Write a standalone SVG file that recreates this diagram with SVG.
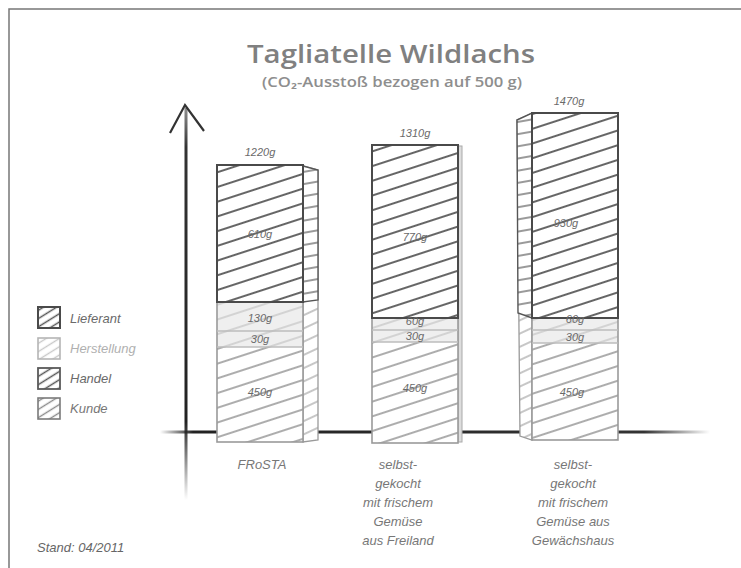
<svg xmlns="http://www.w3.org/2000/svg" width="741" height="568" viewBox="0 0 741 568">
<defs>
<style>
.title{font-family:"Open Sans","DejaVu Sans",sans-serif;font-weight:600;fill:#808080}
.sub{font-family:"Open Sans","DejaVu Sans",sans-serif;font-weight:600;fill:#8e8e8e}
.hand{font-family:"Liberation Sans","DejaVu Sans",sans-serif;font-style:italic;fill:#6a6a6a}
.val{font-size:11px;text-anchor:middle}
.lab{font-size:13px;text-anchor:middle;fill:#777}
.leg{font-size:13px}
.outD{fill:none;stroke:#4a4a4a;stroke-width:2}
.outL{fill:none;stroke:#9a9a9a;stroke-width:1.6}
.sep{stroke:#bdbdbd;stroke-width:1.5}
</style>
<pattern id="hD" patternUnits="userSpaceOnUse" width="14" height="14" patternTransform="rotate(-18)">
<rect width="14" height="14" fill="#fff"/>
<line x1="0" y1="7" x2="14" y2="7" stroke="#4a4a4a" stroke-width="1.7"/>
</pattern>
<pattern id="hM" patternUnits="userSpaceOnUse" width="14" height="14" patternTransform="rotate(-18)">
<rect width="14" height="14" fill="#fff"/>
<line x1="0" y1="7" x2="14" y2="7" stroke="#8a8a8a" stroke-width="1.4"/>
</pattern>
<pattern id="hL" patternUnits="userSpaceOnUse" width="14" height="14" patternTransform="rotate(-18)">
<rect width="14" height="14" fill="#efefef"/>
<line x1="0" y1="7" x2="14" y2="7" stroke="#c4c4c4" stroke-width="1.3"/>
</pattern>
<pattern id="lD" patternUnits="userSpaceOnUse" width="7" height="7" patternTransform="rotate(-32)">
<rect width="7" height="7" fill="#fff"/>
<line x1="0" y1="3.5" x2="7" y2="3.5" stroke="#555" stroke-width="1.5"/>
</pattern>
<pattern id="lM" patternUnits="userSpaceOnUse" width="7" height="7" patternTransform="rotate(-32)">
<rect width="7" height="7" fill="#fff"/>
<line x1="0" y1="3.5" x2="7" y2="3.5" stroke="#8a8a8a" stroke-width="1.4"/>
</pattern>
<pattern id="lL" patternUnits="userSpaceOnUse" width="7" height="7" patternTransform="rotate(-32)">
<rect width="7" height="7" fill="#fff"/>
<line x1="0" y1="3.5" x2="7" y2="3.5" stroke="#c8c8c8" stroke-width="1.4"/>
</pattern>
<pattern id="sD" patternUnits="userSpaceOnUse" width="12" height="12" patternTransform="rotate(-10)">
<rect width="12" height="12" fill="#fff"/>
<line x1="0" y1="6" x2="12" y2="6" stroke="#555" stroke-width="1.2"/>
</pattern>
<pattern id="sM" patternUnits="userSpaceOnUse" width="12" height="12" patternTransform="rotate(-25)">
<rect width="12" height="12" fill="#fff"/>
<line x1="0" y1="6" x2="12" y2="6" stroke="#999" stroke-width="1.1"/>
</pattern>
<linearGradient id="gx" gradientUnits="userSpaceOnUse" x1="160" y1="0" x2="710" y2="0">
<stop offset="0" stop-color="#222" stop-opacity="0"/>
<stop offset="0.06" stop-color="#222"/>
<stop offset="0.88" stop-color="#333"/>
<stop offset="1" stop-color="#333" stop-opacity="0"/>
</linearGradient>
<linearGradient id="gy" gradientUnits="userSpaceOnUse" x1="0" y1="108" x2="0" y2="500">
<stop offset="0" stop-color="#444" stop-opacity="0.6"/>
<stop offset="0.1" stop-color="#333"/>
<stop offset="0.8" stop-color="#222"/>
<stop offset="1" stop-color="#222" stop-opacity="0"/>
</linearGradient>
</defs>

<rect x="0" y="0" width="741" height="568" fill="#fff"/>
<rect x="9" y="9" width="760" height="600" fill="none" stroke="#777" stroke-width="1.5"/>

<g id="title">
<text class="title" x="391" y="63" font-size="26" text-anchor="middle" textLength="288" lengthAdjust="spacingAndGlyphs">Tagliatelle Wildlachs</text>
<text class="sub" x="392" y="87" font-size="14" text-anchor="middle" textLength="260" lengthAdjust="spacingAndGlyphs">(CO₂-Ausstoß bezogen auf 500 g)</text>
</g>

<g id="connectors">
<line x1="160" y1="432" x2="710" y2="432" stroke="url(#gx)" stroke-width="3"/>
<line x1="186" y1="108" x2="186" y2="500" stroke="url(#gy)" stroke-width="3"/>
<polyline points="170,133 185,105 204,131" fill="none" stroke="#333" stroke-width="2.2" stroke-linejoin="miter"/>
</g>

<g id="legend">
<g id="leg-lieferant">
<rect x="38" y="307" width="22" height="21" fill="url(#lD)" stroke="#4a4a4a" stroke-width="2"/>
<text class="hand leg" x="70" y="323" fill="#555">Lieferant</text>
</g>
<g id="leg-herstellung">
<rect x="38" y="338" width="22" height="21" fill="url(#lL)" stroke="#b5b5b5" stroke-width="1.6"/>
<text class="hand leg" x="70" y="353" style="fill:#b0b0b0">Herstellung</text>
</g>
<g id="leg-handel">
<rect x="38" y="368" width="22" height="21" fill="url(#lD)" stroke="#5a5a5a" stroke-width="1.8"/>
<text class="hand leg" x="70" y="383">Handel</text>
</g>
<g id="leg-kunde">
<rect x="38" y="398" width="22" height="21" fill="url(#lM)" stroke="#7a7a7a" stroke-width="1.6"/>
<text class="hand leg" x="70" y="413" style="fill:#777">Kunde</text>
</g>
</g>

<g id="bar-frosta">
<polygon points="303,166 318,170 318,440 303,442" fill="url(#sM)" stroke="#9a9a9a" stroke-width="1.3"/>
<polygon points="303,166 318,170 318,300 303,302" fill="url(#sD)" stroke="#555" stroke-width="1.4"/>
<rect x="217" y="347" width="86" height="95" fill="url(#hM)"/>
<rect x="217" y="302" width="86" height="45" fill="url(#hL)"/>
<rect x="217" y="165" width="86" height="137" fill="url(#hD)"/>
<rect class="outL" x="217" y="302" width="86" height="140"/>
<line class="sep" x1="217" y1="331" x2="303" y2="331"/>
<line class="sep" x1="217" y1="347" x2="303" y2="347"/>
<rect class="outD" x="217" y="165" width="86" height="137"/>
<text class="hand val" x="260" y="156">1220g</text>
<text class="hand val" x="260" y="238">610g</text>
<text class="hand val" x="260" y="322">130g</text>
<text class="hand val" x="260" y="343">30g</text>
<text class="hand val" x="260" y="396">450g</text>
</g>

<g id="bar-freiland">
<rect x="458" y="146" width="4" height="296" fill="#ddd" stroke="#aaa" stroke-width="1"/>
<rect x="372" y="342" width="86" height="101" fill="url(#hM)"/>
<rect x="372" y="318" width="86" height="24" fill="url(#hL)"/>
<rect x="372" y="145" width="86" height="173" fill="url(#hD)"/>
<rect class="outL" x="372" y="318" width="86" height="125"/>
<line class="sep" x1="372" y1="330" x2="458" y2="330"/>
<line class="sep" x1="372" y1="342" x2="458" y2="342"/>
<rect class="outD" x="372" y="145" width="86" height="173"/>
<text class="hand val" x="415" y="137">1310g</text>
<text class="hand val" x="415" y="241">770g</text>
<text class="hand val" x="415" y="325">60g</text>
<text class="hand val" x="415" y="340">30g</text>
<text class="hand val" x="415" y="392">450g</text>
</g>

<g id="bar-gewaechshaus">
<polygon points="517,120 532,113 532,440 520,436" fill="url(#sM)" stroke="#9a9a9a" stroke-width="1.3"/>
<polygon points="517,120 532,113 532,318 518,313" fill="url(#sD)" stroke="#555" stroke-width="1.4"/>
<rect x="532" y="343" width="86" height="97" fill="url(#hM)"/>
<rect x="532" y="318" width="86" height="25" fill="url(#hL)"/>
<rect x="532" y="113" width="86" height="205" fill="url(#hD)"/>
<rect class="outL" x="532" y="318" width="86" height="122"/>
<line class="sep" x1="532" y1="330" x2="618" y2="330"/>
<line class="sep" x1="532" y1="343" x2="618" y2="343"/>
<rect class="outD" x="532" y="113" width="86" height="205"/>
<text class="hand val" x="569" y="105">1470g</text>
<text class="hand val" x="566" y="227">930g</text>
<text class="hand val" x="575" y="323">60g</text>
<text class="hand val" x="575" y="341">30g</text>
<text class="hand val" x="572" y="396">450g</text>
</g>

<g id="labels">
<text class="hand lab" x="262" y="469">FRoSTA</text>
<text class="hand lab" x="398" y="469">selbst-</text>
<text class="hand lab" x="398" y="488">gekocht</text>
<text class="hand lab" x="398" y="507">mit frischem</text>
<text class="hand lab" x="398" y="526">Gemüse</text>
<text class="hand lab" x="398" y="545">aus Freiland</text>
<text class="hand lab" x="573" y="469">selbst-</text>
<text class="hand lab" x="573" y="488">gekocht</text>
<text class="hand lab" x="573" y="507">mit frischem</text>
<text class="hand lab" x="573" y="526">Gemüse aus</text>
<text class="hand lab" x="573" y="545">Gewächshaus</text>
<text class="hand" x="37" y="552" font-size="13" style="fill:#666">Stand: 04/2011</text>
</g>
</svg>
